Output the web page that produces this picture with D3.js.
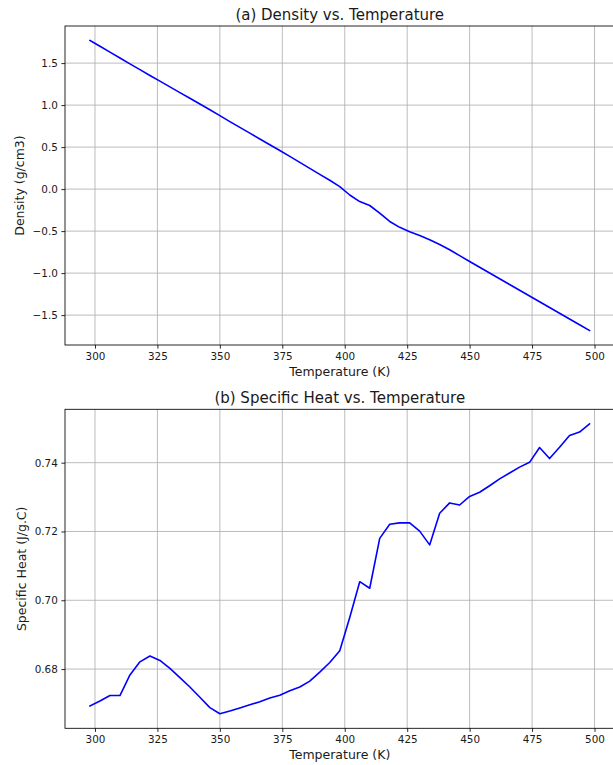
<!DOCTYPE html>
<html>
<head>
<meta charset="utf-8">
<script src="https://cdn.jsdelivr.net/npm/d3@7"></script>
<style>
  html, body { margin: 0; padding: 0; background: #fff; }
  svg { display: block; font-family: "DejaVu Sans", sans-serif; }
</style>
</head>
<body>
<svg id="fig" width="613" height="765"></svg>
<script>
// Temperature sweep (K)
const temperature = [298, 302, 306, 310, 314, 318, 322, 326, 330, 334, 338, 342, 346,
  350, 354, 358, 362, 366, 370, 374, 378, 382, 386, 390, 394, 398, 402, 406, 410,
  414, 418, 422, 426, 430, 434, 438, 442, 446, 450, 454, 458, 462, 466, 470, 474,
  478, 482, 486, 490, 494, 498];

// Density (g/cm3)
const density = [1.769, 1.700, 1.630, 1.561, 1.491, 1.422, 1.353, 1.285, 1.217, 1.149,
  1.081, 1.013, 0.945, 0.874, 0.804, 0.735, 0.666, 0.597, 0.528, 0.459, 0.390, 0.318,
  0.247, 0.176, 0.105, 0.030, -0.070, -0.148, -0.195, -0.285, -0.385, -0.455, -0.508,
  -0.553, -0.603, -0.660, -0.722, -0.792, -0.862, -0.930, -0.999, -1.067, -1.136,
  -1.204, -1.273, -1.341, -1.410, -1.478, -1.546, -1.615, -1.683];

// Specific heat (J/g.C)
const specificHeat = [0.6693, 0.6707, 0.6723, 0.6723, 0.6783, 0.6821, 0.6838, 0.6825,
  0.6802, 0.6775, 0.6748, 0.6718, 0.6688, 0.6670, 0.6678, 0.6687, 0.6696, 0.6705,
  0.6716, 0.6724, 0.6737, 0.6748, 0.6765, 0.6791, 0.6819, 0.6853, 0.6950, 0.7054,
  0.7035, 0.7180, 0.7221, 0.7225, 0.7225, 0.7201, 0.7161, 0.7253, 0.7283, 0.7277,
  0.7302, 0.7314, 0.7333, 0.7353, 0.7370, 0.7387, 0.7401, 0.7444, 0.7412, 0.7445,
  0.7479, 0.7489, 0.7513];

// Tick values
const xTicks = [300, 325, 350, 375, 400, 425, 450, 475, 500];
const densityTicks = [-1.5, -1.0, -0.5, 0.0, 0.5, 1.0, 1.5];
const heatTicks = [0.68, 0.70, 0.72, 0.74];

const svg = d3.select("#fig");

// Padded extent: 5% margin on each side
function padded(values) {
  const [lo, hi] = d3.extent(values);
  const m = (hi - lo) * 0.05;
  return [lo - m, hi + m];
}

const LEFT = 65, RIGHT = 614.5;
const x = d3.scaleLinear().domain(padded(temperature)).range([LEFT, RIGHT]);

function panel(opts) {
  const { top, bottom, values, yTicks, yFormat, title, ylabel, ylabelX } = opts;
  const y = d3.scaleLinear().domain(padded(values)).range([bottom, top]);
  const g = svg.append("g");

  // grid
  g.append("g").selectAll("line").data(xTicks).join("line")
    .attr("x1", d => x(d)).attr("x2", d => x(d))
    .attr("y1", top).attr("y2", bottom)
    .attr("stroke", "#b0b0b0").attr("stroke-width", 0.85);
  g.append("g").selectAll("line").data(yTicks).join("line")
    .attr("x1", LEFT).attr("x2", RIGHT)
    .attr("y1", d => y(d)).attr("y2", d => y(d))
    .attr("stroke", "#b0b0b0").attr("stroke-width", 0.85);

  // data line
  const pts = temperature.map((t, i) => [t, values[i]]);
  g.append("path")
    .datum(pts)
    .attr("fill", "none")
    .attr("stroke", "#0000ff")
    .attr("stroke-width", 1.6)
    .attr("stroke-linejoin", "round")
    .attr("stroke-linecap", "square")
    .attr("d", d3.line().x(d => x(d[0])).y(d => y(d[1])));

  // axes
  const xAxis = g.append("g")
    .attr("transform", `translate(0,${bottom})`)
    .call(d3.axisBottom(x).tickValues(xTicks).tickSize(3.6).tickPadding(3.6).tickFormat(d3.format("d")));
  const yAxis = g.append("g")
    .attr("transform", `translate(${LEFT},0)`)
    .call(d3.axisLeft(y).tickValues(yTicks).tickSize(3.6).tickPadding(3.6).tickFormat(d3.format(yFormat)));
  [xAxis, yAxis].forEach(a => {
    a.select(".domain").remove();
    a.selectAll("line").attr("stroke", "#000").attr("stroke-width", 0.85);
    a.selectAll("text").attr("fill", "#1a1a1a")
      .style("font-family", "DejaVu Sans").style("font-size", "10.4px");
  });

  // spines
  g.append("rect")
    .attr("x", LEFT).attr("y", top)
    .attr("width", RIGHT - LEFT).attr("height", bottom - top)
    .attr("fill", "none").attr("stroke", "#000").attr("stroke-width", 0.85);

  // title
  g.append("text")
    .attr("x", (LEFT + RIGHT) / 2).attr("y", top - 6)
    .attr("text-anchor", "middle")
    .attr("fill", "#1a1a1a")
    .style("font-size", "15px")
    .text(title);

  // x label
  g.append("text")
    .attr("x", (LEFT + RIGHT) / 2).attr("y", bottom + 31)
    .attr("text-anchor", "middle")
    .attr("fill", "#1a1a1a")
    .style("font-size", "12.5px")
    .text("Temperature (K)");

  // y label
  g.append("text")
    .attr("transform", `translate(${ylabelX},${(top + bottom) / 2}) rotate(-90)`)
    .attr("text-anchor", "middle")
    .attr("fill", "#1a1a1a")
    .style("font-size", "12.5px")
    .text(ylabel);
}

panel({
  top: 26, bottom: 345, values: density, yTicks: densityTicks, yFormat: ".1f",
  title: "(a) Density vs. Temperature", ylabel: "Density (g/cm3)", ylabelX: 24
});

panel({
  top: 409.3, bottom: 728.3, values: specificHeat, yTicks: heatTicks, yFormat: ".2f",
  title: "(b) Specific Heat vs. Temperature", ylabel: "Specific Heat (J/g.C)", ylabelX: 26
});
</script>
</body>
</html>
